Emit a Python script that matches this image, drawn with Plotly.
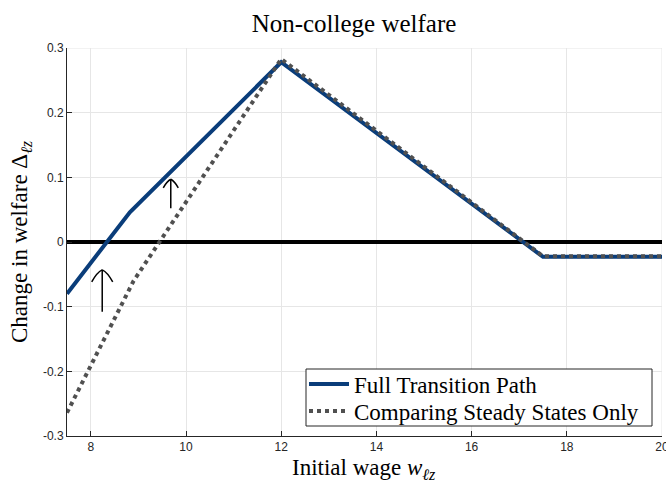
import plotly.graph_objects as go

# ---- data ----
full_x = [7.5, 8.82, 12.0, 17.5, 20.0]
full_y = [-0.080, 0.046, 0.278, -0.023, -0.023]
ss_x = [7.5, 8.9, 12.0, 17.5, 20.0]
ss_y = [-0.264, -0.060, 0.283, -0.022, -0.022]

x_ticks = [8, 10, 12, 14, 16, 18, 20]
x_ticktext = ["8", "10", "12", "14", "16", "18", "20"]
y_ticks = [-0.3, -0.2, -0.1, 0, 0.1, 0.2, 0.3]
y_ticktext = ["-0.3", "-0.2", "-0.1", "0", "0.1", "0.2", "0.3"]

# arrows (x, y_start, y_end)
arrow_x = [8.24, 9.68]
arrow_y0 = [-0.108, 0.052]
arrow_y1 = [-0.043, 0.097]
arrow_head_px = [10.5, 7.5]

W, H = 666, 481
XR = [7.5, 20]
YR = [-0.3, 0.3]
px_left, px_right, px_top, px_bot = 67, 662, 48, 436
L, R, T, B = px_left, W - px_right, px_top, H - px_bot
pw = px_right - px_left
ph = px_bot - px_top
dxpx = (XR[1] - XR[0]) / pw
dypx = (YR[1] - YR[0]) / ph


def pxx(v):
    return (v - px_left) / pw


def pxy(v):
    return (px_bot - v) / ph


SERIF = "Liberation Serif, Times New Roman, serif"
SANS = "Liberation Sans, Arial, sans-serif"
GRID = "#e6e6e6"

fig = go.Figure()
fig.add_trace(go.Scatter(x=full_x, y=full_y, mode="lines", name="Full Transition Path",
                         legend="legend",
                         line=dict(color="#0a3d7a", width=4)))
fig.add_trace(go.Scatter(x=ss_x, y=ss_y, mode="lines", name="Comparing Steady States Only",
                         legend="legend2",
                         line=dict(color="#505050", width=4, dash="dot")))

shapes = [
    # edge grid lines (plotly drops grid lines that sit on the plot edges)
    dict(type="line", xref="x", yref="paper", x0=XR[1], x1=XR[1], y0=0, y1=1,
         layer="below", line=dict(color=GRID, width=1)),
    dict(type="line", xref="paper", yref="y", x0=0, x1=1, y0=YR[1], y1=YR[1],
         layer="below", line=dict(color=GRID, width=1)),
    # legend frame
    dict(type="rect", xref="paper", yref="paper", x0=pxx(306), x1=pxx(652),
         y0=pxy(426), y1=pxy(369), layer="above", fillcolor="white",
         line=dict(color="#262626", width=1)),
]
for ax_, y0, y1, hw in zip(arrow_x, arrow_y0, arrow_y1, arrow_head_px):
    shapes.append(dict(type="line", xref="x", yref="y", x0=ax_, x1=ax_, y0=y0, y1=y1,
                       line=dict(color="black", width=1.5)))
    hx = hw * dxpx
    hy = hw * 1.15 * dypx
    for s in (-1, 1):
        path = "M {:.4f},{:.4f} Q {:.4f},{:.4f} {:.4f},{:.4f}".format(
            ax_, y1, ax_ + s * hx * 0.5, y1 - hy * 0.2, ax_ + s * hx, y1 - hy)
        shapes.append(dict(type="path", xref="x", yref="y", path=path,
                           line=dict(color="black", width=1.5)))

leg_common = dict(xanchor="left", yanchor="middle", bgcolor="rgba(0,0,0,0)", borderwidth=0,
                  font=dict(family=SERIF, size=23, color="black"), itemwidth=40)

fig.update_layout(
    width=W, height=H,
    margin=dict(l=L, r=R, t=T, b=B, autoexpand=False),
    paper_bgcolor="white", plot_bgcolor="white",
    title=dict(text="Non-college welfare", x=354 / W, xanchor="center",
               y=1 - 23 / H, yanchor="middle",
               font=dict(family=SERIF, size=25, color="black")),
    xaxis=dict(range=XR, tickvals=x_ticks, ticktext=x_ticktext, ticks="inside", ticklen=5,
               tickcolor="#262626", showline=True, linecolor="#262626", linewidth=1,
               showgrid=True, gridcolor=GRID, gridwidth=1, zeroline=False,
               ticklabeloverflow="allow", automargin=False,
               tickfont=dict(family=SANS, size=12, color="#262626")),
    yaxis=dict(range=YR, tickvals=y_ticks, ticktext=y_ticktext, ticks="inside", ticklen=5,
               tickcolor="#262626", showline=True, linecolor="#262626", linewidth=1,
               showgrid=True, gridcolor=GRID, gridwidth=1,
               zeroline=True, zerolinecolor="black", zerolinewidth=4,
               ticklabeloverflow="allow", automargin=False,
               tickfont=dict(family=SANS, size=12, color="#262626")),
    legend=dict(x=pxx(304), y=pxy(384), **leg_common),
    legend2=dict(x=pxx(304), y=pxy(411), **leg_common),
    shapes=shapes,
    showlegend=True,
    annotations=[
        dict(text="Change in welfare \u0394<sub><i>\u2113z</i></sub>", xref="paper", yref="paper",
             x=pxx(21), y=0.5, xanchor="center", yanchor="middle", textangle=-90,
             showarrow=False, font=dict(family=SERIF, size=23, color="black")),
        dict(text="Initial wage <i>w</i><sub><i>\u2113z</i></sub>", xref="paper", yref="paper",
             x=pxx(364), y=pxy(469), xanchor="center", yanchor="middle",
             showarrow=False, font=dict(family=SERIF, size=23, color="black")),
    ],
)

fig.write_html("out.html",
               config={"displayModeBar": False},
               post_script="document.body.style.margin='0';document.body.style.overflow='hidden';")
